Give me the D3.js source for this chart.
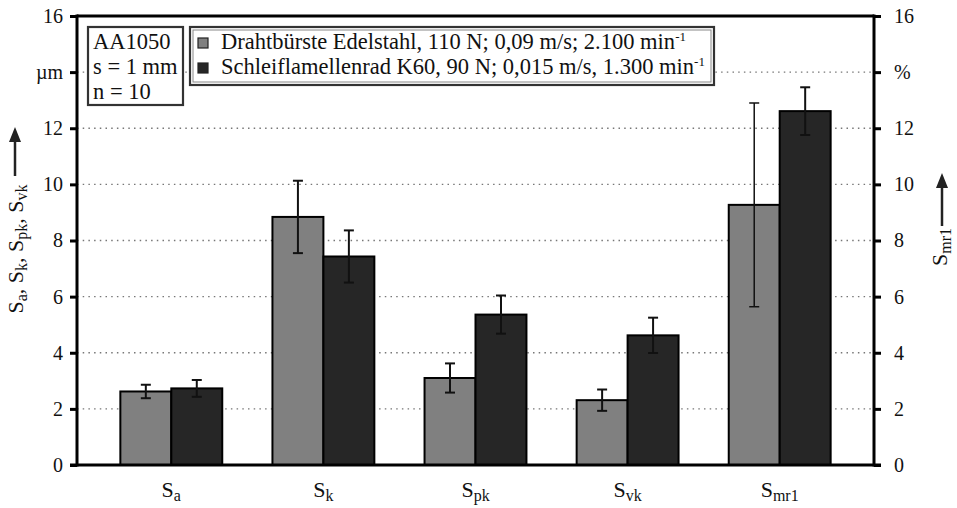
<!DOCTYPE html>
<html>
<head>
<meta charset="utf-8">
<script src="https://cdn.jsdelivr.net/npm/d3@7"></script>
<style>
  html, body { margin: 0; padding: 0; background: #fff; }
  svg { display: block; font-family: "Liberation Serif", "Times New Roman", serif; }
  svg text { font-family: "Liberation Serif", "Times New Roman", serif; }
</style>
</head>
<body>
<svg id="chart" width="957" height="508"></svg>
<script>
// Surface parameters (base symbol S + subscript)
const catSubs = ["a", "k", "pk", "vk", "mr1"];
// Drahtbürste Edelstahl
const brushMean = [2.62, 8.84, 3.10, 2.31, 9.27];
const brushSd   = [0.24, 1.29, 0.52, 0.38, 3.63];
// Schleiflamellenrad K60
const flapMean  = [2.73, 7.43, 5.36, 4.62, 12.61];
const flapSd    = [0.30, 0.93, 0.68, 0.63, 0.85];

const tickValues = [0, 2, 4, 6, 8, 10, 12, 14, 16];
const leftTickLabels  = ["0", "2", "4", "6", "8", "10", "12", "µm", "16"];
const rightTickLabels = ["0", "2", "4", "6", "8", "10", "12", "%", "16"];

const seriesNames = [
  "Drahtbürste Edelstahl, 110 N; 0,09 m/s; 2.100 min",
  "Schleiflamellenrad K60, 90 N; 0,015 m/s, 1.300 min"
];
const infoLines = ["AA1050", "s = 1 mm", "n = 10"];

const colors = ["#808080", "#262626"];

const svg = d3.select("#chart");
const plotL = 77, plotR = 874, plotT = 16, plotB = 465;

const x = d3.scaleBand().domain(catSubs).range([plotL, plotR])
  .paddingInner(0.33).paddingOuter(0.285);
const xSub = d3.scaleBand().domain([0, 1]).range([0, x.bandwidth()]);
const y = d3.scaleLinear().domain([0, 16]).range([plotB, plotT]);

// dotted grid
svg.append("g").selectAll("line")
  .data(tickValues.filter(v => v > 0 && v < 16))
  .join("line")
  .attr("x1", plotL).attr("x2", plotR)
  .attr("y1", d => y(d)).attr("y2", d => y(d))
  .attr("stroke", "#777").attr("stroke-width", 1.3)
  .attr("stroke-dasharray", "1.5,4.2");

// bars
const series = [
  { mean: brushMean, sd: brushSd },
  { mean: flapMean, sd: flapSd }
];
series.forEach((s, si) => {
  const g = svg.append("g");
  g.selectAll("rect").data(catSubs).join("rect")
    .attr("x", (c) => x(c) + xSub(si))
    .attr("width", xSub.bandwidth())
    .attr("y", (c, i) => y(s.mean[i]))
    .attr("height", (c, i) => y(0) - y(s.mean[i]))
    .attr("fill", colors[si])
    .attr("stroke", "#000").attr("stroke-width", 2);
});

// error bars
series.forEach((s, si) => {
  const g = svg.append("g").attr("stroke", "#111").attr("stroke-width", 2);
  catSubs.forEach((c, i) => {
    const cx = x(c) + xSub(si) + xSub.bandwidth() / 2;
    const y1 = y(s.mean[i] + s.sd[i]), y2 = y(s.mean[i] - s.sd[i]);
    const w = 5;
    const sw = (si === 0 && i === 4) ? 1.5 : 2;
    g.append("line").attr("x1", cx).attr("x2", cx).attr("y1", y1).attr("y2", y2).attr("stroke-width", sw);
    g.append("line").attr("x1", cx - w).attr("x2", cx + w).attr("y1", y1).attr("y2", y1).attr("stroke-width", sw);
    g.append("line").attr("x1", cx - w).attr("x2", cx + w).attr("y1", y2).attr("y2", y2).attr("stroke-width", sw);
  });
});

// axes
const leftAxis = d3.axisLeft(y).tickValues(tickValues)
  .tickFormat((d, i) => leftTickLabels[i]).tickSize(7).tickPadding(7);
const rightAxis = d3.axisRight(y).tickValues(tickValues)
  .tickFormat((d, i) => rightTickLabels[i]).tickSize(7).tickPadding(13);

function styleAxis(g) {
  g.attr("font-family", "Liberation Serif").attr("font-size", 20);
  g.select(".domain").remove();
  g.selectAll(".tick line").attr("stroke", "#000").attr("stroke-width", 3);
  g.selectAll(".tick text").attr("fill", "#111");
}
svg.append("g").attr("transform", `translate(${plotL},0)`).call(leftAxis).call(styleAxis);
svg.append("g").attr("transform", `translate(${plotR},0)`).call(rightAxis).call(styleAxis);

// frame lines
const frame = svg.append("g").attr("stroke", "#000").attr("stroke-width", 3);
frame.append("line").attr("x1", plotL).attr("x2", plotL).attr("y1", plotT - 1.5).attr("y2", plotB + 1.5);
frame.append("line").attr("x1", plotR).attr("x2", plotR).attr("y1", plotT - 1.5).attr("y2", plotB + 1.5);
frame.append("line").attr("x1", plotL).attr("x2", plotR).attr("y1", plotT).attr("y2", plotT);
frame.append("line").attr("x1", plotL - 7).attr("x2", plotR + 7).attr("y1", plotB).attr("y2", plotB);

// category labels
const catG = svg.append("g");
catSubs.forEach(c => {
  const t = catG.append("text")
    .attr("x", x(c) + x.bandwidth() / 2).attr("y", 497)
    .attr("text-anchor", "middle").attr("font-size", 22).attr("fill", "#111");
  t.append("tspan").text("S");
  t.append("tspan").attr("dy", 4).attr("font-size", 16).text(c);
});

// axis titles with subscripts
function subLabel(parent, parts) {
  parts.forEach(([base, sub], i) => {
    parent.append("tspan").attr("dy", i === 0 ? 0 : -4).text((i ? ", " : "") + base);
    parent.append("tspan").attr("dy", 4).attr("font-size", 16).text(sub);
  });
}
const lt = svg.append("text")
  .attr("transform", "translate(23,249) rotate(-90)")
  .attr("text-anchor", "middle").attr("font-size", 22).attr("fill", "#111");
subLabel(lt, [["S", "a"], ["S", "k"], ["S", "pk"], ["S", "vk"]]);

function arrow(cx, yTop, yBot) {
  svg.append("line").attr("x1", cx).attr("x2", cx).attr("y1", yBot).attr("y2", yTop + 12)
    .attr("stroke", "#222").attr("stroke-width", 2.5);
  svg.append("path")
    .attr("d", `M${cx},${yTop} L${cx - 6},${yTop + 15} L${cx + 6},${yTop + 15} Z`)
    .attr("fill", "#222");
}
arrow(15, 127, 176);

const rt = svg.append("text")
  .attr("transform", "translate(947,247) rotate(-90)")
  .attr("text-anchor", "middle").attr("font-size", 22).attr("fill", "#111");
subLabel(rt, [["S", "mr1"]]);
arrow(942, 173, 226);

// info box
const info = svg.append("g");
info.append("rect").attr("x", 88).attr("y", 27).attr("width", 95).attr("height", 78)
  .attr("fill", "#fff").attr("stroke", "#333").attr("stroke-width", 2.2);
info.selectAll("text").data(infoLines).join("text")
  .attr("x", 93).attr("y", (d, i) => 49 + i * 25)
  .attr("font-size", 22.5).attr("fill", "#111").text(d => d);

// series legend
const leg = svg.append("g");
leg.append("rect").attr("x", 190).attr("y", 27).attr("width", 524).attr("height", 58)
  .attr("fill", "#fff").attr("stroke", "#333").attr("stroke-width", 2.2);
leg.append("rect").attr("x", 193).attr("y", 30).attr("width", 518).attr("height", 52)
  .attr("fill", "none").attr("stroke", "#888").attr("stroke-width", 1);
seriesNames.forEach((name, i) => {
  const yy = 49 + i * 25;
  leg.append("rect").attr("x", 198).attr("y", yy - 11).attr("width", 10).attr("height", 10)
    .attr("fill", colors[i]).attr("stroke", "#222").attr("stroke-width", 1.2);
  const t = leg.append("text").attr("x", 221).attr("y", yy)
    .attr("font-size", 22.5).attr("fill", "#111");
  t.append("tspan").text(name);
  t.append("tspan").attr("dy", -8).attr("font-size", 13).text("-1");
});
</script>
</body>
</html>
